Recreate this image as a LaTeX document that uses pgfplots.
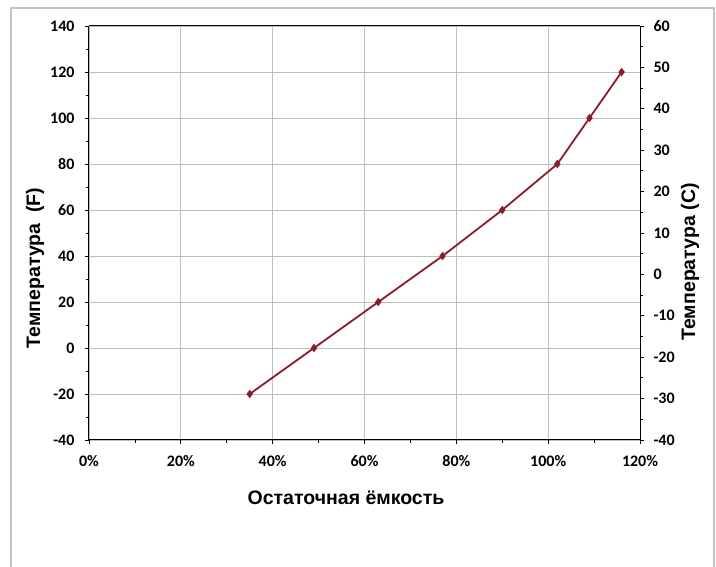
\documentclass[border=0pt]{standalone}
\usepackage{pgfplots}
\pgfplotsset{compat=1.18}
\usepackage{fontspec}
\setmainfont{Liberation Sans}
\newfontfamily\tickfont{Carlito}
\definecolor{linered}{RGB}{140,28,42}
\definecolor{gridgray}{RGB}{190,190,190}
\definecolor{framegray}{RGB}{195,195,195}
\begin{document}
\begin{tikzpicture}[x=1pt,y=1pt]
\useasboundingbox (0,0) rectangle (716,567);
\fill[white] (0,0) rectangle (716,567);
\draw[framegray, line width=1.2pt] (11,-5) rectangle (714,559);
\begin{axis}[
  at={(89pt,127pt)}, anchor=south west,
  scale only axis, width=551pt, height=414pt,
  xmin=0, xmax=120, ymin=-40, ymax=140,
  xtick={0,20,...,120}, ytick={-40,-20,...,140},
  minor x tick num=1, minor y tick num=1,
  xticklabel={\pgfmathprintnumber{\tick}\%},
  grid=major, grid style={gridgray, line width=0.8pt},
  axis y line*=left, axis x line*=bottom,
  axis line style={black, line width=1pt},
  tick align=outside, tick style={black, line width=0.8pt},
  major tick length=4pt, minor tick length=3pt,
  /pgf/number format/assume math mode=true,
  ticklabel style={font=\tickfont\bfseries\fontsize{16}{18}\selectfont},
  yticklabel style={xshift=-7pt},
  xticklabel style={yshift=-8pt},
  /pgf/number format/1000 sep={},
  clip=false,
]
\addplot[linered, line width=1.8pt, mark=diamond*, mark size=2.8pt, mark options={fill=linered}] coordinates {
  (35,-20) (49,0) (63,20) (77,40) (90,60) (102,80) (109,100) (116,120)
};
\draw[black, line width=1pt] (axis cs:0,140) -- (axis cs:120,140);
\end{axis}
\begin{axis}[
  at={(89pt,127pt)}, anchor=south west,
  scale only axis, width=551pt, height=414pt,
  xmin=0, xmax=120, ymin=-40, ymax=60,
  axis x line=none, axis y line*=right,
  ytick={-40,-30,...,60}, minor y tick num=1,
  axis line style={black, line width=1pt},
  tick align=outside, tick style={black, line width=0.8pt},
  major tick length=4pt, minor tick length=3pt,
  /pgf/number format/assume math mode=true,
  ticklabel style={font=\tickfont\bfseries\fontsize{16}{18}\selectfont},
  yticklabel style={xshift=6pt},
]
\end{axis}
\node[rotate=90, font=\bfseries\fontsize{19.5}{22}\selectfont] at (35,299) {Температура~~(F)};
\node[rotate=90, font=\bfseries\fontsize{19.5}{22}\selectfont] at (690,305) {Температура (C)};
\node[font=\bfseries\fontsize{19.5}{22}\selectfont] at (346,69) {Остаточная ёмкость};
\end{tikzpicture}
\end{document}
